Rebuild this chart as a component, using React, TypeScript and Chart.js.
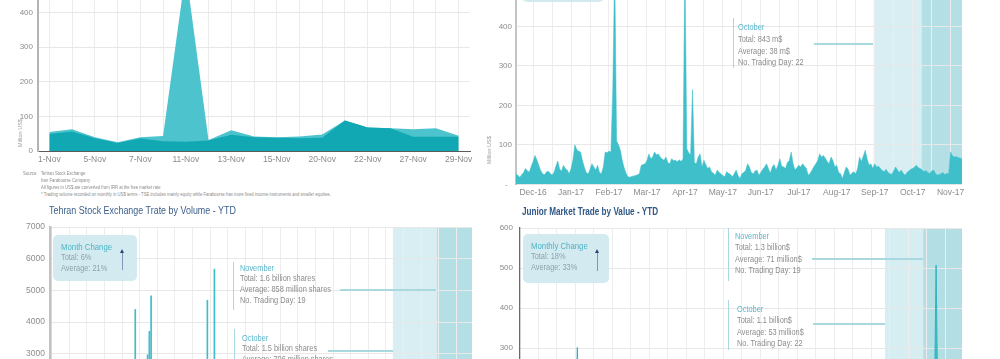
import React, { useEffect, useRef } from 'react';
import { Chart, registerables } from 'chart.js';

Chart.register(...registerables);

const FONT = '"Liberation Sans", Arial, sans-serif';
const TICK = '#8c8c8c';
const GRID = '#e8e8e8';

// ---------- Chart A: Trade by value, November 2017 (million US$)
const novDays = ['1-Nov', '4-Nov', '5-Nov', '6-Nov', '7-Nov', '8-Nov', '11-Nov', '12-Nov', '13-Nov', '14-Nov',
  '15-Nov', '19-Nov', '20-Nov', '21-Nov', '22-Nov', '26-Nov', '27-Nov', '28-Nov', '29-Nov'];
const novTickLabels = ['1-Nov', '5-Nov', '7-Nov', '11-Nov', '13-Nov', '15-Nov', '20-Nov', '22-Nov', '27-Nov', '29-Nov'];
const novTotalValue = [55, 63, 40, 25, 40, 43, 520, 32, 60, 42, 40, 42, 48, 88, 68, 66, 63, 66, 44];
const novTseValue = [49, 56, 37, 23, 36, 28, 27, 30, 47, 40, 38, 37, 38, 88, 68, 66, 41, 41, 41];

// ---------- Chart B: TSE trade by value, Dec-16 .. Nov-17 (daily, million US$)
const tseMonthLabels = ['Dec-16', 'Jan-17', 'Feb-17', 'Mar-17', 'Apr-17', 'May-17', 'Jun-17', 'Jul-17', 'Aug-17', 'Sep-17', 'Oct-17', 'Nov-17'];
const tseDailyValue = [
  27, 22, 18, 24, 30, 40, 34, 31, 45, 58,
  73, 62, 48, 35, 27, 24, 31, 33, 28, 23,
  30, 45, 59, 38, 34, 48, 40, 36, 27, 40, 62,
  100, 88, 84, 82, 60, 44, 30, 26, 38, 52,
  44, 36, 48, 30, 27, 44, 82, 80, 84, 82,
  240, 560, 110, 100, 86, 60, 42, 28, 19, 18,
  20, 21, 22, 24, 27, 48, 50, 52, 60, 77,
  65, 69, 82, 75, 77, 69, 64, 61, 69, 55,
  52, 65, 60, 61, 57, 62, 58, 64, 570, 90,
  80, 75, 240, 55, 52, 69, 77, 44, 61, 50,
  40, 44, 32, 28, 23, 36, 30, 27, 22, 19,
  32, 28, 25, 19, 27, 36, 22, 15, 27, 30, 35,
  52, 44, 30, 27, 34, 36, 23, 30, 38, 44,
  52, 40, 28, 44, 50, 36, 48, 65, 46, 44,
  40, 55, 60, 82, 52, 36, 42, 48, 44, 52,
  46, 40, 23, 28, 36, 45, 52, 60, 77, 69,
  73, 66, 58, 52, 69, 60, 44, 48, 30, 27, 15,
  30, 44, 38, 23, 28, 32, 26, 40, 69, 58,
  72, 86, 65, 48, 52, 40, 52, 44, 46, 40,
  35, 32, 38, 30, 27, 25, 34, 44, 36, 30,
  36, 28, 23, 30, 34, 38, 40, 44, 48, 42, 40,
  36, 32, 35, 30, 27, 33, 36, 28, 23, 25,
  27, 30, 24, 28, 26, 82, 72, 69, 70, 68,
  66, 65,
];
const tseBands = [
  { from: 188.4, to: 213.7, color: '#d8eef2' },
  { from: 213.7, to: 235, color: '#b4dfe5' },
];

// ---------- Chart C: TSE trade by volume YTD (daily, million shares)
const tseDailyVolume = [
  820, 1050, 940, 1210, 1380, 990, 1120, 1460, 1290, 1010,
  1530, 1740, 1260, 1080, 960, 1190, 1350, 1220, 1070, 1310,
  1480, 1690, 1150, 1030, 1240, 1420, 1580, 1360, 1170, 1290,
  1620, 1890, 2130, 1740, 1460, 1320, 1510, 1280, 1190, 1370,
  1560, 1430, 1240, 1660, 1980, 1720, 1540, 2210, 4410, 1830,
  1650, 1920, 2240, 2060, 2510, 2980, 3720, 4840, 2370, 1760,
  1420, 1210, 1080, 980, 1130, 1270, 1410, 1530, 1690, 1850,
  1620, 1480, 1570, 1740, 1930, 1660, 1590, 1720, 1880, 2040,
  1810, 1690, 1770, 1950, 2120, 2280, 2390, 2170, 2460, 4700,
  2310, 2080, 2520, 5680, 2640, 2190, 1970, 1840, 1720, 1650,
  1580, 1490, 1430, 1370, 1290, 1350, 1420, 1510, 1390, 1260,
  1180, 1240, 1310, 1150, 1070, 1120, 1230, 1340, 1280, 1190,
  1260, 1390, 1470, 1540, 1410, 1330, 1450, 1580, 1660, 1520,
  1440, 1370, 1490, 1610, 1530, 1420, 1350, 1480, 1570, 1690,
  1820, 1710, 1590, 1640, 1760, 1880, 1730, 1620, 1540, 1670,
  1790, 1950, 2080, 1860, 1740, 1630, 1710, 1840, 1990, 1870,
  1750, 1680, 1560, 1490, 1620, 1730, 1810, 1690, 1580, 1470,
  1390, 1520, 1640, 1760, 1880, 1720, 1610, 1530, 1450, 1580,
  1690, 1820, 1950, 2060, 1840, 1710, 1630, 1560, 1480, 1610,
  1740, 1660, 1590, 1520, 1460, 1390, 1510, 1620, 1570, 1480,
  1410, 1350, 1440, 1530, 1620, 1550, 1470, 1390, 1320, 1260,
  1340, 1410, 1480, 1390, 1310, 1250, 1180, 1240, 1300, 1370,
  1450, 1520, 1430, 1360, 1290, 1380, 1460, 1540, 1610, 1530,
  1470, 1400, 1480, 1560, 1630, 1570, 1500, 1440, 1520, 1590,
];
const volumeBands = [
  { from: 194.5, to: 219.5, color: '#d8eef2' },
  { from: 219.5, to: 239.5, color: '#b4dfe5' },
];

// ---------- Chart D: Junior market trade by value YTD (daily, million US$)
const juniorDailyValue = [
  22, 18, 25, 31, 27, 20, 24, 35, 29, 26,
  33, 41, 28, 24, 30, 37, 45, 39, 32, 27,
  35, 48, 56, 43, 38, 44, 52, 61, 73, 88,
  124, 302, 96, 68, 55, 47, 42, 51, 58, 46,
  39, 45, 53, 62, 49, 41, 36, 43, 50, 57,
  64, 52, 45, 38, 33, 40, 47, 55, 48, 42,
  36, 31, 39, 46, 54, 61, 53, 47, 42, 38,
  44, 51, 59, 66, 58, 49, 43, 37, 41, 48,
  56, 63, 71, 64, 55, 48, 42, 46, 53, 60,
  68, 75, 62, 54, 47, 41, 45, 52, 58, 51,
  44, 39, 35, 41, 48, 55, 49, 43, 38, 34,
  40, 46, 53, 47, 42, 37, 33, 39, 45, 51,
  58, 52, 46, 41, 36, 42, 49, 56, 63, 57,
  50, 44, 39, 45, 52, 60, 67, 59, 53, 47,
  42, 48, 55, 62, 70, 64, 57, 51, 46, 41,
  37, 43, 50, 57, 64, 58, 52, 47, 43, 39,
  45, 52, 59, 66, 73, 67, 60, 54, 49, 44,
  40, 46, 53, 60, 68, 62, 56, 50, 45, 41,
  47, 54, 61, 69, 63, 57, 51, 46, 42, 48,
  55, 62, 58, 52, 47, 43, 49, 56, 63, 59,
  53, 48, 44, 50, 57, 64, 60, 54, 49, 45,
  51, 58, 65, 61, 55, 50, 56, 63, 70, 66,
  72, 79, 86, 94, 130, 507, 118, 92, 84, 77,
  71, 68, 74, 80, 76, 70, 66, 73, 79, 75,
];
const juniorBands = [
  { from: 197.4, to: 218, color: '#d6edf1' },
  { from: 218, to: 239, color: '#b2dee4' },
];

// ---------- helpers
const bandPlugin = {
  id: 'bands',
  beforeDraw(chart: any, _a: any, opts: any) {
    const bands = (opts && opts.list) || [];
    const { ctx, chartArea, scales } = chart;
    ctx.save();
    for (const b of bands) {
      const x1 = scales.x.getPixelForValue(b.from);
      const x2 = scales.x.getPixelForValue(b.to);
      ctx.fillStyle = b.color;
      ctx.fillRect(x1, chartArea.top, x2 - x1, chartArea.bottom - chartArea.top);
    }
    ctx.restore();
  },
};

const tickFont = (size: number) => ({ family: FONT, size });

function ChartBox({ left, top, width, height, build }: any) {
  const ref = useRef<HTMLCanvasElement>(null);
  useEffect(() => {
    const chart = new Chart(ref.current as HTMLCanvasElement, build());
    return () => chart.destroy();
  }, []);
  return (
    <div style={{ position: 'absolute', left, top, width, height }}>
      <canvas ref={ref} width={width} height={height} style={{ display: 'block', width, height }} />
    </div>
  );
}

const T = ({ x, y, size = 9, color = '#8d8d8d', children, weight = 400, sx = 0.82 }: any) => (
  <div style={{
    position: 'absolute', left: x, top: y - size * 0.6, fontSize: size, lineHeight: `${size * 1.2}px`, color,
    whiteSpace: 'nowrap', fontWeight: weight, transform: `scaleX(${sx})`, transformOrigin: 'left center',
  }}>
    {children}
  </div>
);
const HLine = ({ x1, x2, y, color = '#a9d8df', w = 2 }: any) => (
  <div style={{ position: 'absolute', left: x1, top: y - w / 2, width: x2 - x1, height: w, background: color }} />
);
const VLine = ({ x, y1, y2, color = '#a9d8df', w = 1.5 }: any) => (
  <div style={{ position: 'absolute', left: x - w / 2, top: y1, width: w, height: y2 - y1, background: color }} />
);
const Arrow = ({ x, y1, y2 }: any) => (
  <>
    <div style={{ position: 'absolute', left: x - 0.5, top: y1 + 3, width: 1, height: y2 - y1 - 3, background: '#7f98b8' }} />
    <div style={{ position: 'absolute', left: x - 2.5, top: y1, width: 0, height: 0, borderLeft: '2.5px solid transparent', borderRight: '2.5px solid transparent', borderBottom: '4px solid #274577' }} />
  </>
);
const ChangeBox = ({ x, y, w, h, title, total, avg }: any) => (
  <>
    <div style={{ position: 'absolute', left: x, top: y, width: w, height: h, background: '#d3ebf0', borderRadius: 5 }} />
    <T x={x + 8} y={y + 11.5} size={9.5} color="#4cb4c8">{title}</T>
    <T x={x + 8} y={y + 22.5} color="#8fa3a8">{total}</T>
    <T x={x + 8} y={y + 33.5} color="#8fa3a8">{avg}</T>
  </>
);

// ---------- chart configs
const buildA = () => ({
  type: 'line',
  data: {
    labels: novDays,
    datasets: [
      { data: novTseValue, backgroundColor: '#12a8b3', borderWidth: 0, pointRadius: 0, fill: 'origin', tension: 0 },
      { data: novTotalValue, backgroundColor: '#4cc3cd', borderWidth: 0, pointRadius: 0, fill: 'origin', tension: 0 },
    ],
  },
  options: {
    animation: false, responsive: false,
    layout: { padding: { left: 0, right: 20, top: 18, bottom: 0 } },
    plugins: { legend: { display: false }, tooltip: { enabled: false } },
    scales: {
      x: {
        offset: true,
        grid: { offset: false, color: '#ececec', drawTicks: false },
        border: { color: '#5a5a5a', width: 1 },
        ticks: {
          autoSkip: false, maxRotation: 0, padding: 4, color: TICK, font: tickFont(8.5),
          callback: (_v: any, i: number) => (novTickLabels.includes(novDays[i]) ? novDays[i] : ''),
        },
        afterFit: (s: any) => { s.height = 21; },
      },
      y: {
        min: 0, max: 500,
        ticks: { stepSize: 100, padding: 5, color: TICK, font: tickFont(8) },
        grid: { color: GRID, drawTicks: false },
        border: { color: '#b4b4b4', width: 2 },
        afterFit: (s: any) => { s.width = 38; },
      },
    },
  },
});

const tseDayLabels = tseDailyValue.map((_, i) => (i % 20 === 9 ? tseMonthLabels[(i - 9) / 20] || '' : ''));

const buildB = () => ({
  type: 'line',
  data: {
    labels: tseDayLabels,
    datasets: [
      { data: tseDailyValue, backgroundColor: '#3ebfca', borderColor: '#3ebfca', borderWidth: 0.5, pointRadius: 0, fill: 'origin', tension: 0 },
    ],
  },
  plugins: [bandPlugin],
  options: {
    animation: false, responsive: false,
    layout: { padding: { left: 0, right: 18, top: 17, bottom: 0 } },
    plugins: { legend: { display: false }, tooltip: { enabled: false }, bands: { list: tseBands } },
    scales: {
      x: {
        grid: { color: (c: any) => (c.index % 10 === 9 ? '#ededed' : 'rgba(0,0,0,0)'), drawTicks: false },
        border: { display: false },
        ticks: { autoSkip: false, maxRotation: 0, padding: 3, color: TICK, font: tickFont(8.5), callback: (_v: any, i: number) => tseDayLabels[i] },
        afterFit: (s: any) => { s.height = 17.7; },
      },
      y: {
        min: 0, max: 500,
        ticks: { stepSize: 100, padding: 4, color: TICK, font: tickFont(8), callback: (v: any) => (v === 0 ? '-  ' : String(v)) },
        grid: { color: GRID, drawTicks: false },
        border: { color: '#c4c4c4', width: 2 },
        afterFit: (s: any) => { s.width = 46; },
      },
    },
  },
});

const buildC = () => ({
  type: 'bar',
  data: {
    labels: tseDailyVolume.map((_, i) => `d${i + 1}`),
    datasets: [
      { data: tseDailyVolume, backgroundColor: '#3fbdc8', barPercentage: 0.95, categoryPercentage: 1 },
    ],
  },
  plugins: [bandPlugin],
  options: {
    animation: false, responsive: false,
    layout: { padding: { left: 0, right: 18, top: 12, bottom: 0 } },
    plugins: { legend: { display: false }, tooltip: { enabled: false }, bands: { list: volumeBands } },
    scales: {
      x: {
        grid: { color: (c: any) => (c.index % 10 === 1 ? '#ededed' : 'rgba(0,0,0,0)'), drawTicks: false },
        border: { display: false },
        ticks: { display: false, autoSkip: false },
        afterFit: (s: any) => { s.height = 26; },
      },
      y: {
        min: 0, max: 7000,
        ticks: { stepSize: 1000, padding: 5, color: TICK, font: tickFont(8.5), callback: (v: any) => String(v) },
        grid: { color: GRID, drawTicks: false },
        border: { color: '#c2c2c2', width: 2.5 },
        afterFit: (s: any) => { s.width = 50; },
      },
    },
  },
});

const buildD = () => ({
  type: 'line',
  data: {
    labels: juniorDailyValue.map((_, i) => `d${i + 1}`),
    datasets: [
      { data: juniorDailyValue, backgroundColor: '#3fbfca', borderColor: '#2fb4bf', borderWidth: 1, pointRadius: 0, fill: 'origin', tension: 0 },
    ],
  },
  plugins: [bandPlugin],
  options: {
    animation: false, responsive: false,
    layout: { padding: { left: 0, right: 18, top: 13, bottom: 0 } },
    plugins: { legend: { display: false }, tooltip: { enabled: false }, bands: { list: juniorBands } },
    scales: {
      x: {
        grid: { color: (c: any) => (c.index % 10 === 0 && c.index > 0 ? '#ededed' : 'rgba(0,0,0,0)'), drawTicks: false },
        border: { display: false },
        ticks: { display: false, autoSkip: false },
        afterFit: (s: any) => { s.height = 21.7; },
      },
      y: {
        min: 0, max: 600,
        ticks: { stepSize: 100, padding: 7, color: TICK, font: tickFont(8) },
        grid: { color: GRID, drawTicks: false },
        border: { color: '#6a6a6a', width: 1.3 },
        afterFit: (s: any) => { s.width = 50; },
      },
    },
  },
});

export default function App() {
  return (
    <div style={{ position: 'fixed', left: 0, top: 0, width: 1000, height: 359, overflow: 'hidden', background: '#ffffff', fontFamily: FONT }}>
      {/* Chart A */}
      <ChartBox left={0} top={-40} width={490} height={212} build={buildA} />
      <div style={{ position: 'absolute', left: 20, top: 133, transform: 'translate(-50%, -50%) rotate(-90deg)', fontSize: 5.5, color: '#9a9a9a', whiteSpace: 'nowrap' }}>Million US$</div>
      <T x={23} y={173.3} size={5} color="#8a8a8a" sx={0.84}>Source:</T>
      <T x={41} y={173.3} size={5} color="#8a8a8a" sx={0.84}>Tehran Stock Exchange</T>
      <T x={41} y={179.6} size={5} color="#8a8a8a" sx={0.84}>Iran Farabourse Company</T>
      <T x={41} y={186.6} size={5} color="#8a8a8a" sx={0.84}>All figures in US$ are converted from IRR at the free market rate</T>
      <T x={41} y={193.8} size={5} color="#8a8a8a" sx={0.84}>* Trading volume recorded on monthly in US$ terms - TSE includes mainly equity while Farabourse has more fixed income instruments and smaller equities.</T>

      {/* Chart B */}
      <ChartBox left={470} top={-30} width={510} height={232} build={buildB} />
      <div style={{ position: 'absolute', left: 489, top: 150, transform: 'translate(-50%, -50%) rotate(-90deg)', fontSize: 5.5, color: '#9a9a9a', whiteSpace: 'nowrap' }}>Million US$</div>
      <div style={{ position: 'absolute', left: 522, top: -40, width: 82, height: 41.5, background: '#d3ebf0', borderRadius: 5 }} />
      <VLine x={733.5} y1={18} y2={68} />
      <T x={738} y={27} size={9} color="#5ab6cc">October</T>
      <T x={738} y={39} size={9}>Total: 843 m$</T>
      <T x={738} y={51} size={9}>Average: 38 m$</T>
      <T x={738} y={62.5} size={9}>No. Trading Day: 22</T>
      <HLine x1={814} x2={873} y={43.5} />

      {/* Chart C */}
      <ChartBox left={0} top={215} width={490} height={260} build={buildC} />
      <T x={49} y={210} size={10.5} color="#3b5e89" sx={0.85}>Tehran Stock Exchange Trate by Volume - YTD</T>
      <ChangeBox x={53} y={235} w={84} h={46} title="Month Change" total="Total: 6%" avg="Average: 21%" />
      <Arrow x={122} y1={249} y2={270} />
      <VLine x={233.5} y1={262} y2={310} />
      <T x={240} y={268} size={9} color="#5ab6cc">November</T>
      <T x={240} y={278.5} size={9}>Total: 1.6 billion shares</T>
      <T x={240} y={289.5} size={9}>Average: 858 million shares</T>
      <T x={240} y={300} size={9}>No. Trading Day: 19</T>
      <HLine x1={340} x2={436} y={289.5} />
      <VLine x={234.5} y1={329} y2={380} />
      <T x={242} y={338} size={9} color="#5ab6cc">October</T>
      <T x={242} y={348.5} size={9}>Total: 1.5 billion shares</T>
      <T x={242} y={359} size={9}>Average: 706 million shares</T>
      <T x={242} y={369.5} size={9}>No. Trading Day: 22</T>
      <HLine x1={328} x2={393} y={351} />

      {/* Chart D */}
      <ChartBox left={470} top={215} width={510} height={275} build={buildD} />
      <T x={522} y={212} size={11} color="#2f5786" weight={600} sx={0.74}>Junior Market Trade by Value - YTD</T>
      <ChangeBox x={523} y={234} w={86} h={49} title="Monthly Change" total="Total: 18%" avg="Average: 33%" />
      <Arrow x={597} y1={249} y2={271} />
      <VLine x={728.5} y1={228} y2={281} />
      <T x={735} y={236} size={9} color="#5ab6cc">November</T>
      <T x={735} y={247.5} size={9}>Total: 1.3 billion$</T>
      <T x={735} y={259} size={9}>Average: 71 million$</T>
      <T x={735} y={270} size={9}>No. Trading Day: 19</T>
      <HLine x1={812} x2={923} y={259} />
      <VLine x={728.5} y1={300} y2={350} />
      <T x={737} y={309} size={9} color="#5ab6cc">October</T>
      <T x={737} y={320.5} size={9}>Total: 1.1 billion$</T>
      <T x={737} y={332} size={9}>Average: 53 million$</T>
      <T x={737} y={343} size={9}>No. Trading Day: 22</T>
      <HLine x1={813} x2={885} y={324} />
    </div>
  );
}
